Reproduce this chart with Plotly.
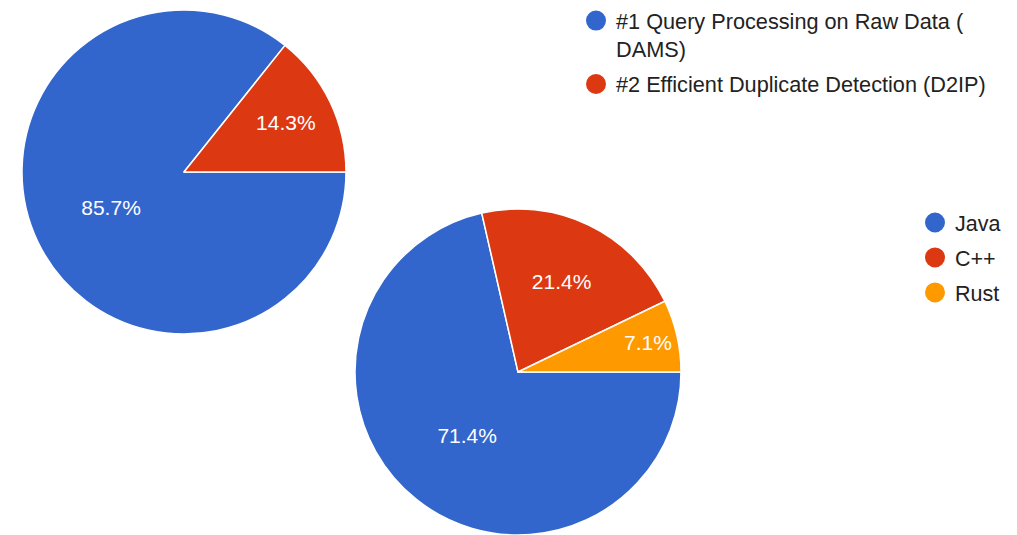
import plotly.graph_objects as go

# Data
topics = ["#1 Query Processing on Raw Data (<br>DAMS)", "#2 Efficient Duplicate Detection (D2IP)"]
topic_counts = [12, 2]
languages = ["Java", "C++", "Rust"]
language_counts = [10, 3, 1]

BLUE, RED, ORANGE = "#3366cc", "#dc3912", "#ff9900"
FONT = "Arial, 'Liberation Sans', sans-serif"

fig = go.Figure()

fig.add_trace(go.Pie(
    labels=topics, values=topic_counts, sort=False, direction="clockwise", rotation=90,
    marker=dict(colors=[BLUE, RED], line=dict(color="white", width=1.5)),
    texttemplate="%{percent:.1%}", textposition="inside", insidetextorientation="horizontal",
    textfont=dict(color="white", size=21, family=FONT),
    domain=dict(x=[22/1017, 346/1017], y=[(535-334)/535, (535-10)/535]),
    showlegend=False, hoverinfo="label+percent",
))
fig.add_trace(go.Pie(
    labels=languages, values=language_counts, sort=False, direction="clockwise", rotation=90,
    marker=dict(colors=[BLUE, RED, ORANGE], line=dict(color="white", width=1.5)),
    texttemplate="%{percent:.1%}", textposition="inside", insidetextorientation="horizontal",
    textfont=dict(color="white", size=21, family=FONT),
    domain=dict(x=[354/1017, 682/1017], y=[0, 326/535]),
    showlegend=False, hoverinfo="label+percent",
))

# Legend entries with circular markers
for name, col in zip(topics, [BLUE, RED]):
    fig.add_trace(go.Scatter(x=[None], y=[None], mode="markers", name=name,
                             marker=dict(color=col, size=16, symbol="circle", line=dict(color=col, width=4)),
                             legend="legend", legendgroup=name))
for name, col in zip(languages, [BLUE, RED, ORANGE]):
    fig.add_trace(go.Scatter(x=[None], y=[None], mode="markers", name=name,
                             marker=dict(color=col, size=16, symbol="circle", line=dict(color=col, width=4)),
                             legend="legend2", legendgroup=name))

fig.update_layout(
    width=1017, height=535,
    margin=dict(l=0, r=0, t=0, b=0),
    paper_bgcolor="white", plot_bgcolor="white",
    font=dict(family=FONT, color="#222222", size=21.5),
    xaxis=dict(visible=False), yaxis=dict(visible=False),
    legend=dict(x=576/1017, y=1, xanchor="left", yanchor="top", valign="top",
                tracegroupgap=4, font=dict(size=21.7, color="#222222", family=FONT),
                bgcolor="rgba(0,0,0,0)"),
    legend2=dict(x=915/1017, y=(535-202)/535, xanchor="left", yanchor="top",
                 tracegroupgap=4, font=dict(size=21.5, color="#222222", family=FONT),
                 bgcolor="rgba(0,0,0,0)"),
)

fig.write_html("out.html", config={"displayModeBar": False},
               post_script="document.body.style.margin='0';")
